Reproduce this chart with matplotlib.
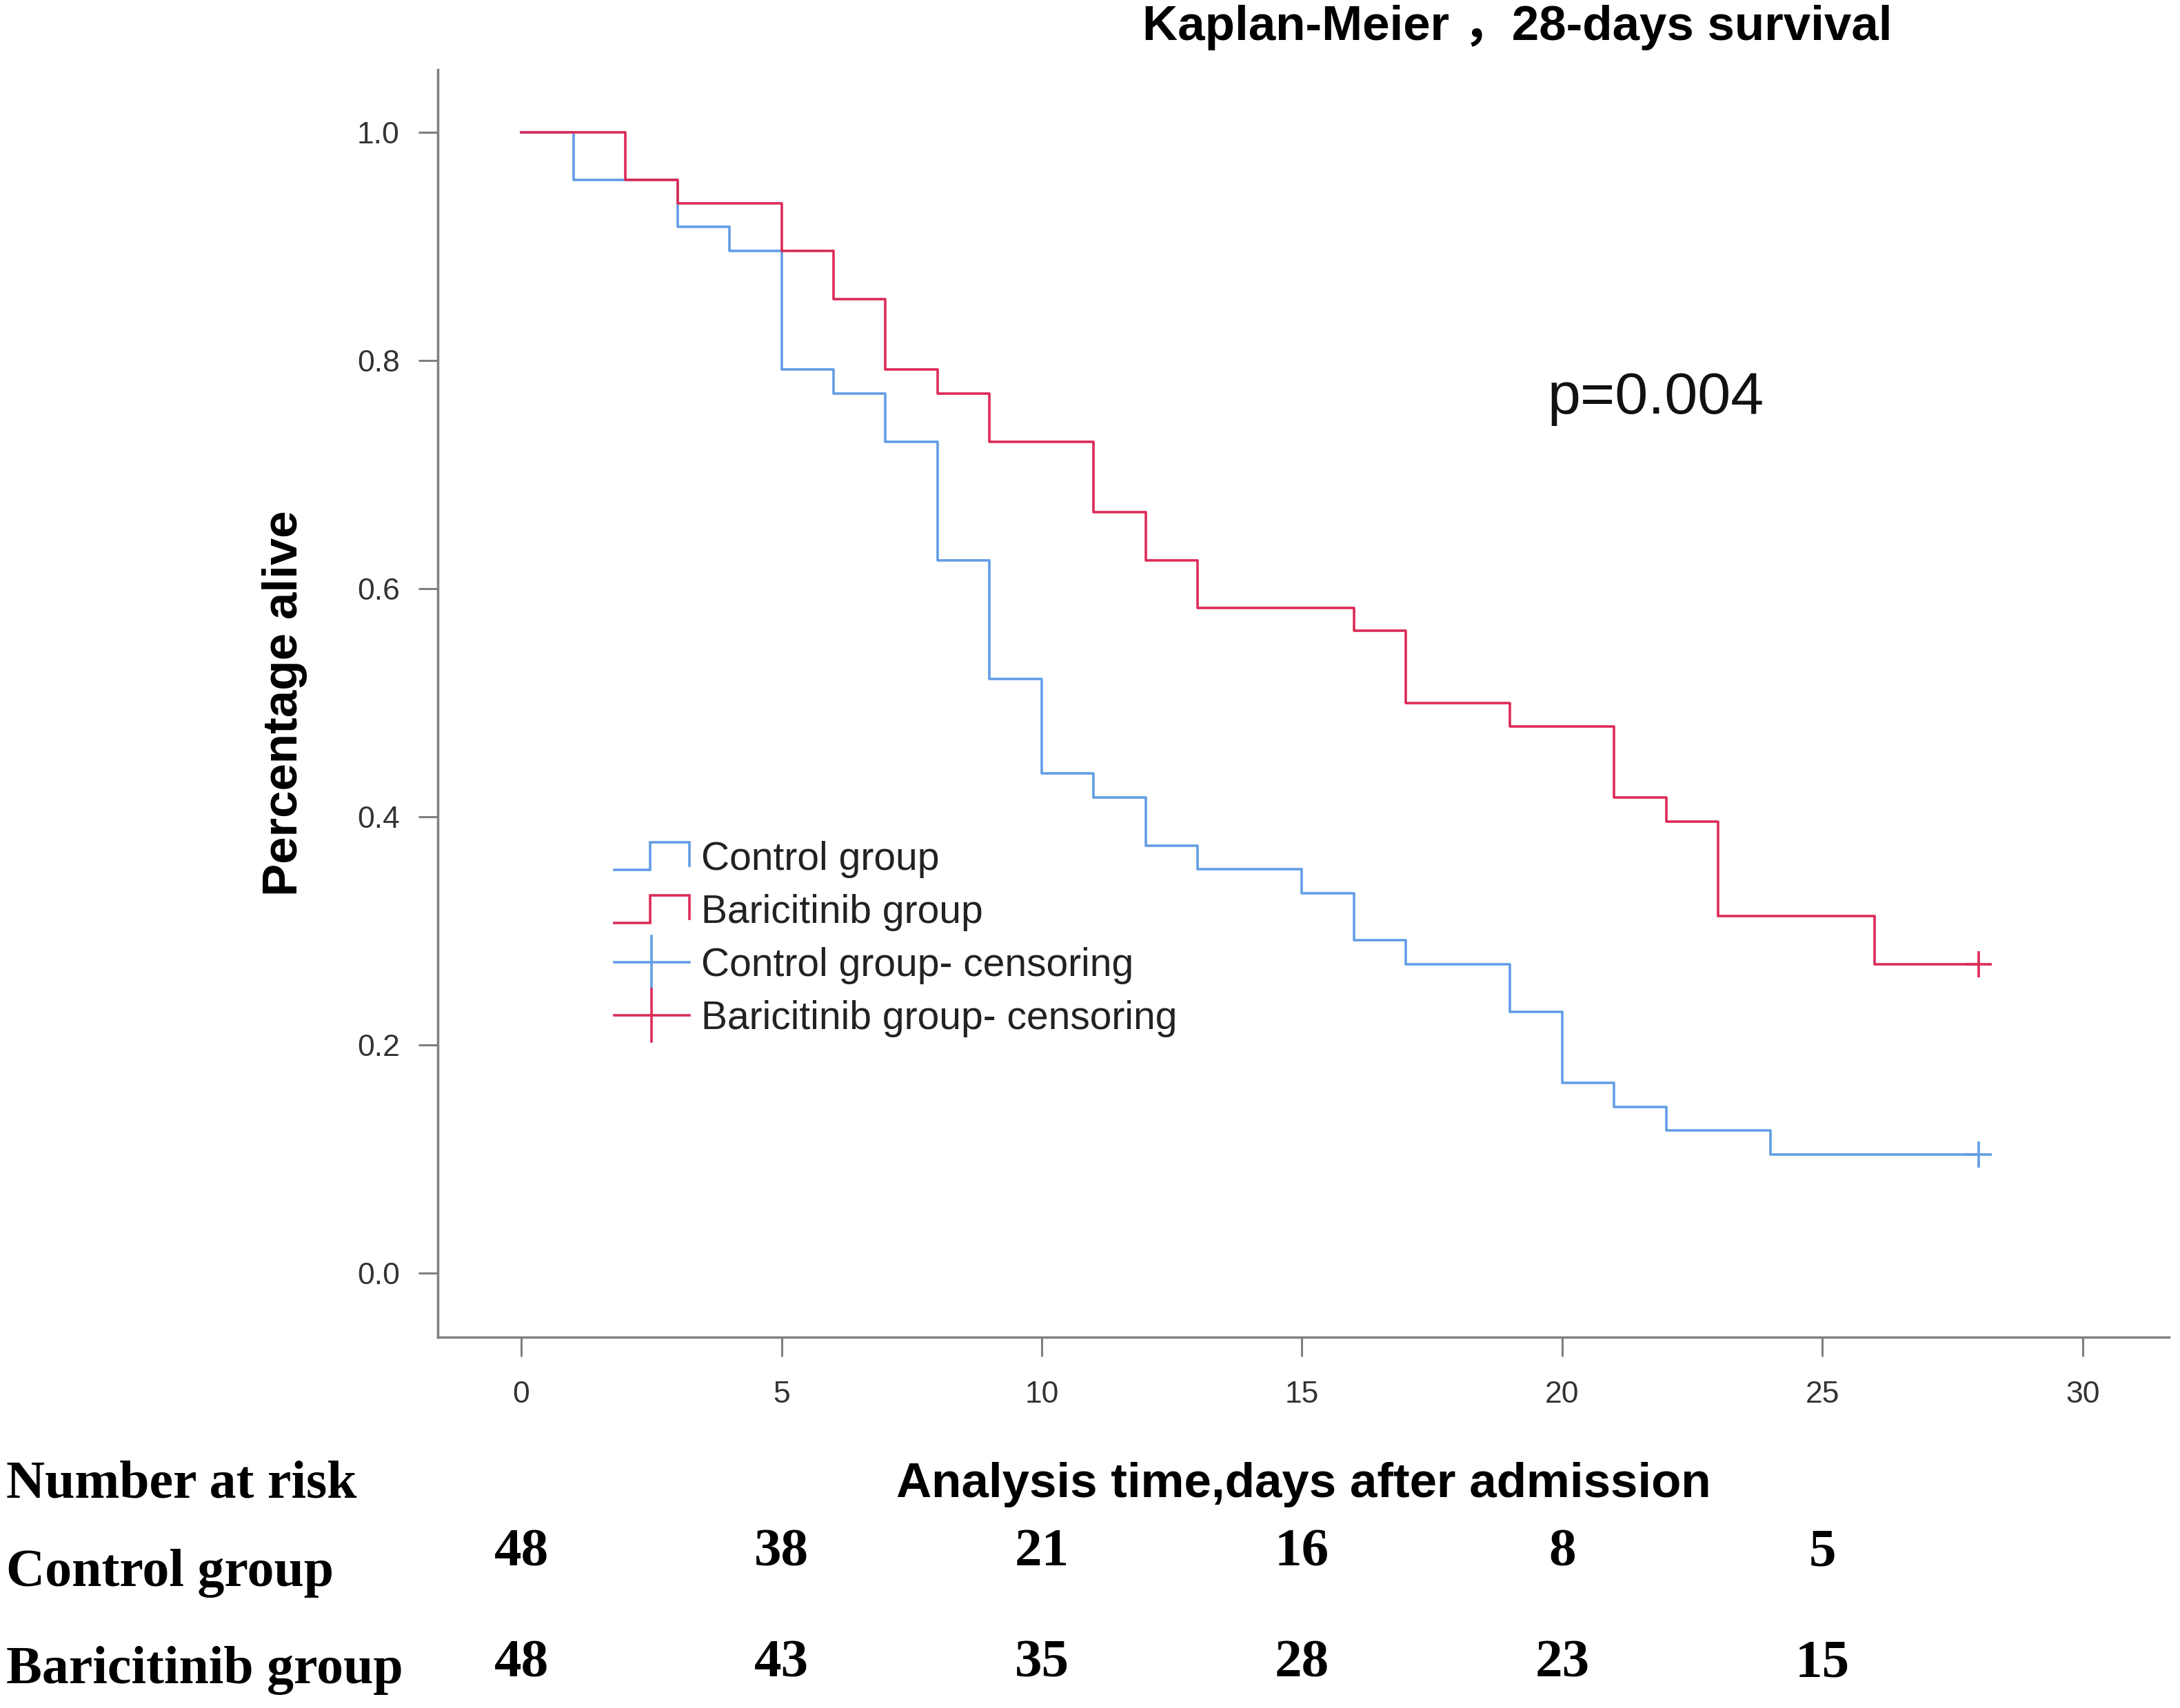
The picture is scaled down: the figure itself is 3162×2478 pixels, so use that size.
import matplotlib
matplotlib.use("Agg")
import matplotlib.pyplot as plt
from matplotlib.lines import Line2D
from matplotlib.legend_handler import HandlerBase
import matplotlib.transforms as mtransforms

# ---------------- data ----------------
control_times = [0, 1, 3, 4, 5, 6, 7, 8, 9, 10, 11, 12, 13, 15, 16, 17, 19, 20, 21, 22, 24, 28]
control_surv = [1.000, 0.958, 0.917, 0.896, 0.792, 0.771, 0.729, 0.625, 0.521, 0.438, 0.417,
                0.375, 0.354, 0.333, 0.292, 0.271, 0.229, 0.167, 0.146, 0.125, 0.104, 0.104]

bari_times = [0, 2, 3, 5, 6, 7, 8, 9, 11, 12, 13, 16, 17, 19, 21, 22, 23, 26, 28]
bari_surv = [1.000, 0.958, 0.938, 0.896, 0.854, 0.792, 0.771, 0.729, 0.667, 0.625, 0.583,
             0.563, 0.500, 0.479, 0.417, 0.396, 0.313, 0.271, 0.271]

censor_time = 28
control_censor = 0.104
bari_censor = 0.271

risk_times = [0, 5, 10, 15, 20, 25]
risk_control = [48, 38, 21, 16, 8, 5]
risk_bari = [48, 43, 35, 28, 23, 15]

group_labels = ["Control group", "Baricitinib group"]
legend_labels = ["Control group", "Baricitinib group",
                 "Control group- censoring", "Baricitinib group- censoring"]
x_ticks = [0, 5, 10, 15, 20, 25, 30]
y_ticks = [0.0, 0.2, 0.4, 0.6, 0.8, 1.0]

BLUE = "#629de6"
RED = "#dc2b57"
GREY = "#7f7f7f"
SANS = ["Liberation Sans", "DejaVu Sans"]
SERIF = ["Liberation Serif", "DejaVu Serif"]

# ---------------- figure ----------------
fig = plt.figure(figsize=(31.62, 24.78), dpi=100)
ax = fig.add_axes([0.2009, 0.2171, 0.995 - 0.2009, 0.9593 - 0.2171])

ax.step(control_times, control_surv, where="post", color=BLUE, lw=2.6)
ax.step(bari_times, bari_surv, where="post", color=RED, lw=2.6)
ax.plot([censor_time], [control_censor], marker="+", color=BLUE, ms=27, mew=2.6, ls="none")
ax.plot([censor_time], [bari_censor], marker="+", color=RED, ms=27, mew=2.6, ls="none")

ax.set_xlim(-1.6, 31.66)
ax.set_ylim(-0.056, 1.055)
ax.set_xticks(x_ticks)
ax.set_xticklabels([str(t) for t in x_ticks])
ax.set_yticks(y_ticks)
ax.set_yticklabels([f"{v:.1f}" for v in y_ticks])

for s in ["top", "right"]:
    ax.spines[s].set_visible(False)
for s in ["left", "bottom"]:
    ax.spines[s].set_color(GREY)
    ax.spines[s].set_linewidth(2.5)
ax.tick_params(axis="both", direction="out", length=20, width=2.2, color=GREY,
               labelsize=32, labelcolor="#333333")
ax.tick_params(axis="y", pad=20)
ax.tick_params(axis="x", pad=25)
for lab in ax.get_xticklabels() + ax.get_yticklabels():
    lab.set_family(SANS)

# p-value
ax.text(21.8, 0.767, "p=0.004", fontsize=62, family=SANS, ha="center", va="center", color="#111111")

# legend with step-shaped handles
class StepHandler(HandlerBase):
    def create_artists(self, legend, orig_handle, xdescent, ydescent, width, height, fontsize, trans):
        x0 = -xdescent
        y0 = -ydescent
        xs = [x0, x0 + 0.48 * width, x0 + 0.48 * width, x0 + width, x0 + width]
        ys = [y0 + 0.0 * height, y0 + 0.0 * height, y0 + 1.0 * height,
              y0 + 1.0 * height, y0 + 0.15 * height]
        ln = Line2D(xs, ys, color=orig_handle.get_color(), lw=orig_handle.get_linewidth(),
                    solid_joinstyle="miter")
        ln.set_transform(trans)
        return [ln]

class CensorHandler(HandlerBase):
    def create_artists(self, legend, orig_handle, xdescent, ydescent, width, height, fontsize, trans):
        x0 = -xdescent
        y0 = -ydescent
        c = orig_handle.get_color()
        lw = orig_handle.get_linewidth()
        h = Line2D([x0, x0 + width], [y0 + 0.5 * height] * 2, color=c, lw=lw)
        v = Line2D([x0 + 0.5 * width] * 2, [y0 - 0.45 * height, y0 + 1.45 * height], color=c, lw=lw)
        h.set_transform(trans)
        v.set_transform(trans)
        return [h, v]

h_c = Line2D([], [], color=BLUE, lw=2.6)
h_b = Line2D([], [], color=RED, lw=2.6)
h_cc = Line2D([], [], color=BLUE, lw=2.6)
h_bc = Line2D([], [], color=RED, lw=2.6)
leg = ax.legend([h_c, h_b, h_cc, h_bc], legend_labels,
                handler_map={h_c: StepHandler(), h_b: StepHandler(),
                             h_cc: CensorHandler(), h_bc: CensorHandler()},
                loc="center left", bbox_to_anchor=(0.102, 0.314), frameon=False,
                borderpad=0, borderaxespad=0, handlelength=1.9, handletextpad=0.3,
                labelspacing=0.4, prop={"family": SANS, "size": 41})
for t in leg.get_texts():
    t.set_color("#222222")

# titles and labels
fig.text(0.696, 0.984, "Kaplan-Meier ，28-days survival", fontsize=51, fontweight="bold",
         family=["Liberation Sans", "Noto Sans CJK SC", "DejaVu Sans"], ha="center", va="center")
fig.text(0.1307, 0.5884, "Percentage alive", fontsize=51, fontweight="bold", family=SANS,
         rotation=90, ha="center", va="center")
fig.text(0.598, 0.1308, "Analysis time,days after admission", fontsize=51, fontweight="bold",
         family=SANS, ha="center", va="center")

# number at risk table
fig.text(0.003, 0.1308, "Number at risk", fontsize=56, fontweight="bold", family=SERIF,
         ha="left", va="center")
fig.text(0.003, 0.0787, group_labels[0], fontsize=56, fontweight="bold", family=SERIF,
         ha="left", va="center")
fig.text(0.003, 0.0218, group_labels[1], fontsize=56, fontweight="bold", family=SERIF,
         ha="left", va="center")

blend = mtransforms.blended_transform_factory(ax.transData, fig.transFigure)
for t, n in zip(risk_times, risk_control):
    fig.text(t, 0.091, str(n), transform=blend, fontsize=57, fontweight="bold",
             family=SERIF, ha="center", va="center")
for t, n in zip(risk_times, risk_bari):
    fig.text(t, 0.026, str(n), transform=blend, fontsize=57, fontweight="bold",
             family=SERIF, ha="center", va="center")

fig.savefig("out.png", dpi=100, facecolor="white")
